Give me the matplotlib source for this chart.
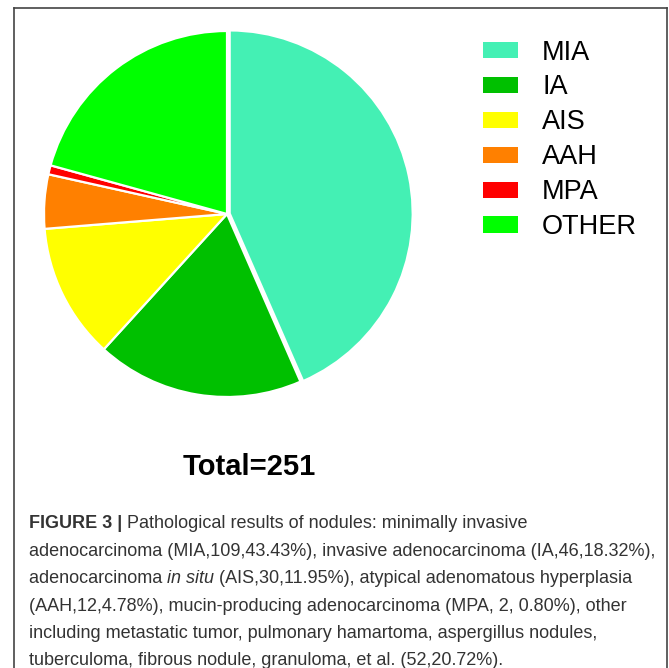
import matplotlib
matplotlib.use("Agg")
import matplotlib.pyplot as plt
from matplotlib.lines import Line2D

# data
labels = ["MIA", "IA", "AIS", "AAH", "MPA", "OTHER"]
counts = [109, 46, 30, 12, 2, 52]
colors = ["#44F0B4", "#00C000", "#FFFF00", "#FF8000", "#FF0000", "#00FF00"]
total_text = "Total=251"

caption_lines = [
    [("FIGURE 3 | ", "bold", "normal"), ("Pathological results of nodules: minimally invasive", "normal", "normal")],
    [("adenocarcinoma (MIA,109,43.43%), invasive adenocarcinoma (IA,46,18.32%),", "normal", "normal")],
    [("adenocarcinoma ", "normal", "normal"), ("in situ", "normal", "italic"),
     (" (AIS,30,11.95%), atypical adenomatous hyperplasia", "normal", "normal")],
    [("(AAH,12,4.78%), mucin-producing adenocarcinoma (MPA, 2, 0.80%), other", "normal", "normal")],
    [("including metastatic tumor, pulmonary hamartoma, aspergillus nodules,", "normal", "normal")],
    [("tuberculoma, fibrous nodule, granuloma, et al. (52,20.72%).", "normal", "normal")],
]

plt.rcParams['font.family'] = ['Liberation Sans', 'DejaVu Sans']

W, H = 669, 668
fig = plt.figure(figsize=(W / 100, H / 100), dpi=100)

# pie, center ~(227, 214) px, radius ~183 px
cx, cy, r = 227, 214, 183
ax = fig.add_axes([(cx - r) / W, 1 - (cy + r) / H, 2 * r / W, 2 * r / H])
wedges, _ = ax.pie(counts, colors=colors, startangle=90, counterclock=False,
                   explode=[0.015, 0, 0, 0, 0, 0],
                   wedgeprops=dict(edgecolor="white", linewidth=1.6))
ax.set_xlim(-1.0, 1.0)
ax.set_ylim(-1.0, 1.0)
ax.set_aspect("equal")
ax.axis("off")

leg = fig.legend(wedges, labels, loc="upper left", bbox_to_anchor=(469 / W, 1 - 26 / H),
                 frameon=False, fontsize=19.5, handlelength=1.3, handleheight=0.55,
                 handletextpad=0.9, labelspacing=0.33, borderpad=0)
for p in leg.get_patches():
    p.set_edgecolor("none")

fig.text(249 / W, 1 - 467 / H, total_text, ha="center", va="center",
         fontsize=21, fontweight="bold", color="black")

# frame around the figure panel (open at bottom)
fx0, fx1, fy0 = 14 / W, 667 / W, 1 - 8 / H
fig.add_artist(Line2D([fx0, fx1], [fy0, fy0], color="#444444", lw=1.2, transform=fig.transFigure))
fig.add_artist(Line2D([fx0, fx0], [fy0, 0], color="#444444", lw=1.2, transform=fig.transFigure))
fig.add_artist(Line2D([fx1, fx1], [fy0, 0], color="#444444", lw=1.2, transform=fig.transFigure))

# caption, written piece by piece so bold / italic parts can sit inline
renderer = fig.canvas.get_renderer()
y = 524
for line in caption_lines:
    x = 29
    for txt, weight, style in line:
        t = fig.text(x / W, 1 - y / H, txt, ha="left", va="center", fontsize=13,
                     fontweight=weight, fontstyle=style, color="#333333")
        bb = t.get_window_extent(renderer=renderer)
        x += bb.width
    y += 27.4

fig.savefig("out.png", dpi=100)
